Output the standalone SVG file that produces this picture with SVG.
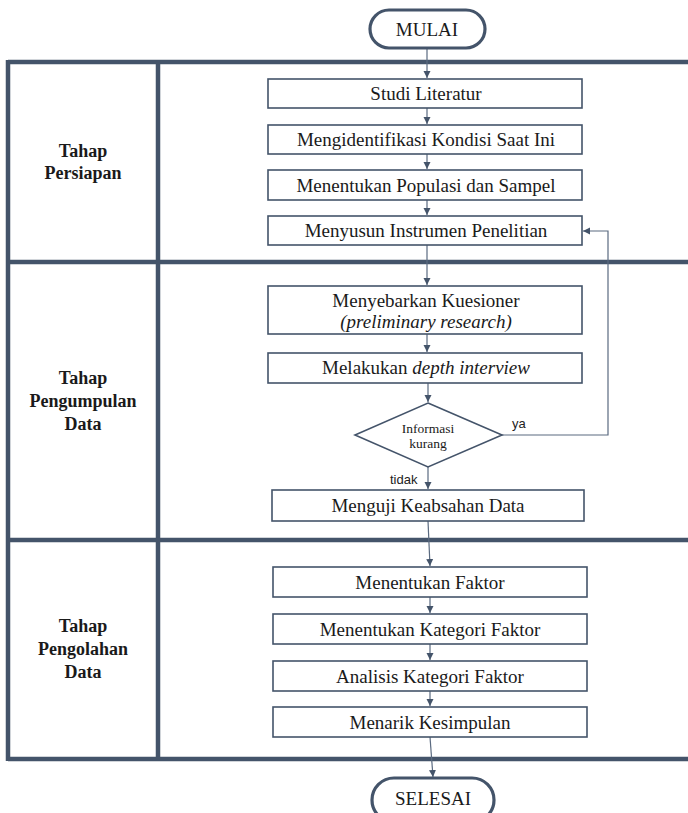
<svg xmlns="http://www.w3.org/2000/svg" width="688" height="813" viewBox="0 0 688 813">
<style>
.frame{stroke:#44546a;stroke-width:4.5;fill:none}
.box{fill:#fff;stroke:#44546a;stroke-width:1.6}
.term{fill:#fff;stroke:#44546a;stroke-width:3.2}
.t{font-family:'Liberation Serif','DejaVu Serif',serif;font-size:19px;fill:#1a1a1a;text-anchor:middle}
.lab{font-family:'Liberation Serif','DejaVu Serif',serif;font-size:18px;font-weight:bold;fill:#1a1a1a;text-anchor:middle}
.small{font-family:'Liberation Serif','DejaVu Serif',serif;font-size:13.5px;fill:#1a1a1a;text-anchor:middle}
.sans{font-family:'Liberation Sans',Arial,sans-serif;font-size:13px;fill:#222}
.c{stroke:#5a6a80;stroke-width:1.2;fill:none}
</style>
<defs>
<marker id="ah" markerWidth="8" markerHeight="8" refX="7" refY="4" orient="auto" markerUnits="userSpaceOnUse">
<path d="M0,0.5 L7,4 L0,7.5 Z" fill="#44546a"/>
</marker>
</defs>
<rect width="688" height="813" fill="#fff"/>
<g id="frame">
<line class="frame" x1="8" y1="62" x2="688" y2="62"/>
<line class="frame" x1="8" y1="262" x2="688" y2="262"/>
<line class="frame" x1="8" y1="540" x2="688" y2="540"/>
<line class="frame" x1="8" y1="759" x2="688" y2="759"/>
<line class="frame" x1="8" y1="60" x2="8" y2="761"/>
<line class="frame" x1="158" y1="60" x2="158" y2="761"/>
</g>
<g id="lane-labels">
<text class="lab" x="83" y="157">Tahap</text>
<text class="lab" x="83" y="179">Persiapan</text>
<text class="lab" x="83" y="384">Tahap</text>
<text class="lab" x="83" y="407">Pengumpulan</text>
<text class="lab" x="83" y="430">Data</text>
<text class="lab" x="83" y="632">Tahap</text>
<text class="lab" x="83" y="655">Pengolahan</text>
<text class="lab" x="83" y="678">Data</text>
</g>
<g id="connectors">
<line class="c" x1="427" y1="48" x2="427" y2="78" marker-end="url(#ah)"/>
<line class="c" x1="427" y1="108" x2="427" y2="124" marker-end="url(#ah)"/>
<line class="c" x1="427" y1="154" x2="427" y2="169" marker-end="url(#ah)"/>
<line class="c" x1="427" y1="200" x2="427" y2="215" marker-end="url(#ah)"/>
<line class="c" x1="427" y1="245" x2="427" y2="285" marker-end="url(#ah)"/>
<line class="c" x1="427" y1="334" x2="427" y2="352" marker-end="url(#ah)"/>
<line class="c" x1="428" y1="383" x2="428" y2="402" marker-end="url(#ah)"/>
<line class="c" x1="428" y1="467" x2="428" y2="489" marker-end="url(#ah)"/>
<line class="c" x1="428" y1="521" x2="430" y2="566" marker-end="url(#ah)"/>
<line class="c" x1="430" y1="597" x2="430" y2="613" marker-end="url(#ah)"/>
<line class="c" x1="430" y1="644" x2="430" y2="660" marker-end="url(#ah)"/>
<line class="c" x1="430" y1="691" x2="430" y2="706" marker-end="url(#ah)"/>
<line class="c" x1="430" y1="737" x2="433" y2="777" marker-end="url(#ah)"/>
<polyline class="c" points="502,435 608,435 608,231 583,231" marker-end="url(#ah)"/>
<text class="sans" x="512" y="428">ya</text>
<text class="sans" x="390" y="484">tidak</text>
</g>
<g id="mulai">
<rect class="term" x="370" y="10" width="115" height="38" rx="19"/>
<text class="t" x="427" y="36">MULAI</text>
</g>
<g id="studi">
<rect class="box" x="268" y="79" width="314" height="29"/>
<text class="t" x="426" y="100">Studi Literatur</text>
</g>
<g id="identifikasi">
<rect class="box" x="268" y="125" width="314" height="29"/>
<text class="t" x="426" y="146">Mengidentifikasi Kondisi Saat Ini</text>
</g>
<g id="populasi">
<rect class="box" x="268" y="170" width="314" height="30"/>
<text class="t" x="426" y="192">Menentukan Populasi dan Sampel</text>
</g>
<g id="instrumen">
<rect class="box" x="268" y="216" width="314" height="29"/>
<text class="t" x="426" y="237">Menyusun Instrumen Penelitian</text>
</g>
<g id="kuesioner">
<rect class="box" x="268" y="286" width="314" height="48"/>
<text class="t" x="426" y="307">Menyebarkan Kuesioner</text>
<text class="t" x="426" y="328" font-style="italic">(preliminary research)</text>
</g>
<g id="interview">
<rect class="box" x="268" y="353" width="314" height="30"/>
<text class="t" x="426" y="374">Melakukan <tspan font-style="italic">depth interview</tspan></text>
</g>
<g id="keputusan">
<polygon class="box" points="428,403 502,435 428,467 355,435"/>
<text class="small" x="428" y="433">Informasi</text>
<text class="small" x="428" y="448">kurang</text>
</g>
<g id="keabsahan">
<rect class="box" x="272" y="490" width="312" height="31"/>
<text class="t" x="428" y="512">Menguji Keabsahan Data</text>
</g>
<g id="faktor">
<rect class="box" x="273" y="567" width="314" height="30"/>
<text class="t" x="430" y="589">Menentukan Faktor</text>
</g>
<g id="kategori">
<rect class="box" x="273" y="614" width="314" height="30"/>
<text class="t" x="430" y="636">Menentukan Kategori Faktor</text>
</g>
<g id="analisis">
<rect class="box" x="273" y="661" width="314" height="30"/>
<text class="t" x="430" y="683">Analisis Kategori Faktor</text>
</g>
<g id="kesimpulan">
<rect class="box" x="273" y="707" width="314" height="30"/>
<text class="t" x="430" y="729">Menarik Kesimpulan</text>
</g>
<g id="selesai">
<rect class="term" x="372" y="778" width="122" height="44" rx="22"/>
<text class="t" x="433" y="805">SELESAI</text>
</g>
</svg>
